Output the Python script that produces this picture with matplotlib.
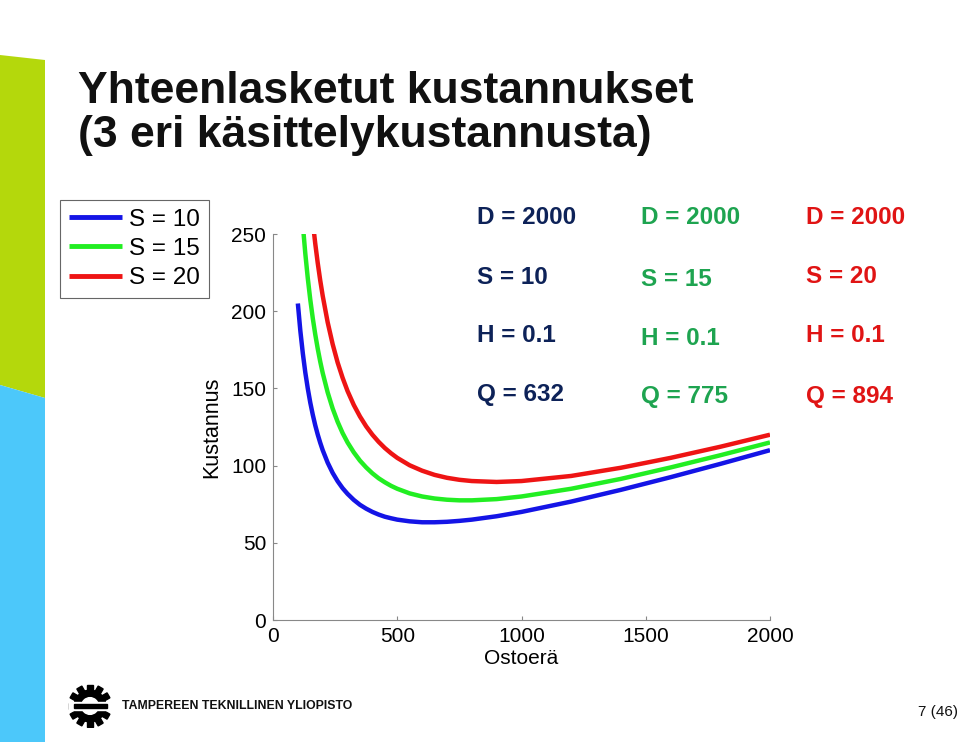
import matplotlib
matplotlib.use("Agg")
import matplotlib.pyplot as plt
from matplotlib.patches import Polygon, Circle, Rectangle
import numpy as np

plt.rcParams['font.family'] = ['Liberation Sans', 'DejaVu Sans']

# ostoerä (Q) ja kokonaiskustannus kolmelle käsittelykustannukselle
ostoera = [100, 110, 120, 130, 140, 150, 160, 170, 180, 190, 200, 220, 240, 260, 280,
           300, 325, 350, 375, 400, 425, 450, 475, 500, 550, 600, 650, 700, 750, 800,
           900, 1000, 1200, 1400, 1600, 1800, 2000]
kust_s10 = [205, 187.3, 172.7, 160.3, 149.9, 140.8, 133, 126.1, 120.1, 114.8, 110, 101.9,
            95.3, 89.9, 85.4, 81.7, 77.8, 74.6, 72.1, 70, 68.3, 66.9, 65.9, 65, 63.9, 63.3,
            63.3, 63.6, 64.2, 65, 67.2, 70, 76.7, 84.3, 92.5, 101.1, 110]
kust_s15 = [305, 278.2, 256, 237.3, 221.3, 207.5, 195.5, 185, 175.7, 167.4, 160, 147.4,
            137, 128.4, 121.1, 115, 108.6, 103.2, 98.8, 95, 91.8, 89.2, 86.9, 85, 82.0, 80,
            78.7, 77.9, 77.5, 77.5, 78.3, 80, 85, 91.4, 98.8, 106.7, 115]
kust_s20 = [405, 369.1, 339.3, 314.2, 292.7, 274.2, 258, 243.8, 231.2, 220, 210, 192.8,
            178.7, 166.8, 156.9, 148.3, 139.3, 131.8, 125.4, 120, 115.4, 111.4, 108.0, 105,
            100.2, 96.7, 94.0, 92.1, 90.8, 90, 89.4, 90, 93.3, 98.6, 105, 112.2, 120]

sarjat = ["S = 10", "S = 15", "S = 20"]
varit = ['#1414e6', '#22ee22', '#ee1414']
tekstivarit = ['#0d2258', '#1ea450', '#e01414']
parametrit = [["D = 2000", "S = 10", "H = 0.1", "Q = 632"],
              ["D = 2000", "S = 15", "H = 0.1", "Q = 775"],
              ["D = 2000", "S = 20", "H = 0.1", "Q = 894"]]

W, H = 960, 742
fig = plt.figure(figsize=(9.6, 7.42), dpi=100)

def fx(px):
    return px / W

def fy(py):
    return 1 - py / H

# vasemman reunan väripalkit
fig.patches.append(Polygon([(fx(0), fy(55)), (fx(45), fy(60)), (fx(45), fy(398)), (fx(0), fy(385))],
                           closed=True, transform=fig.transFigure, facecolor='#b4d80c', edgecolor='none'))
fig.patches.append(Polygon([(fx(0), fy(385)), (fx(45), fy(398)), (fx(45), fy(742)), (fx(0), fy(742))],
                           closed=True, transform=fig.transFigure, facecolor='#4cc8fa', edgecolor='none'))

# otsikko
fig.text(fx(78), fy(103), "Yhteenlasketut kustannukset", fontsize=32, fontweight='bold',
         color='#111111', va='baseline', ha='left')
fig.text(fx(78), fy(147), "(3 eri käsittelykustannusta)", fontsize=32, fontweight='bold',
         color='#111111', va='baseline', ha='left')

ax = fig.add_axes([fx(273), fy(620), fx(770) - fx(273), fy(234) - fy(620)])
for y, lab, c in zip([kust_s10, kust_s15, kust_s20], sarjat, varit):
    ax.plot(ostoera, y, color=c, linewidth=3.2, label=lab, solid_capstyle='butt')

ax.set_xlim(0, 2000)
ax.set_ylim(0, 250)
ax.set_xticks([0, 500, 1000, 1500, 2000])
ax.set_yticks([0, 50, 100, 150, 200, 250])
for s in ['top', 'right']:
    ax.spines[s].set_visible(False)
for s in ['left', 'bottom']:
    ax.spines[s].set_color('#888888')
    ax.spines[s].set_linewidth(0.8)
ax.tick_params(direction='in', length=3, width=0.8, color='#888888', labelsize=15, pad=5)
ax.set_xlabel("Ostoerä", fontsize=15, labelpad=2)
ax.set_ylabel("Kustannus", fontsize=15.5, labelpad=6)

leg = ax.legend(loc='upper left', bbox_to_anchor=(fx(60), fy(200)), bbox_transform=fig.transFigure,
                borderaxespad=0, fontsize=17.5, frameon=True, fancybox=False, framealpha=1,
                edgecolor='#666666', handlelength=2.2, handletextpad=0.3, labelspacing=0.3,
                borderpad=0.35)
leg.get_frame().set_linewidth(0.8)
for l in leg.get_lines():
    l.set_linewidth(3.5)

# parametritekstit
sarake_x = [477, 641, 806]
rivi_y = [[218, 277, 336, 395], [218, 279, 338, 397], [217, 276, 336, 396]]
for xs, ys, rivit, c in zip(sarake_x, rivi_y, parametrit, tekstivarit):
    for yy, t in zip(ys, rivit):
        fig.text(fx(xs), fy(yy), t, fontsize=17.5, fontweight='bold', color=c, va='center', ha='left')

# logo
lax = fig.add_axes([fx(68), fy(728), fx(44), fy(684) - fy(728)])
lax.set_xlim(-1, 1)
lax.set_ylim(-1, 1)
lax.set_aspect('equal')
lax.axis('off')
for a in np.linspace(0, 2 * np.pi, 12, endpoint=False):
    r = Rectangle((-0.13, 0.55), 0.26, 0.42, color='black')
    tr = matplotlib.transforms.Affine2D().rotate(a) + lax.transData
    r.set_transform(tr)
    lax.add_patch(r)
lax.add_patch(Circle((0, 0), 0.72, color='black'))
lax.add_patch(Circle((0, 0), 0.38, color='white'))
lax.add_patch(Rectangle((-0.95, -0.16), 1.9, 0.32, color='white'))
lax.add_patch(Rectangle((-0.75, -0.08), 1.5, 0.16, color='black'))
fig.text(fx(122), fy(706), "TAMPEREEN TEKNILLINEN YLIOPISTO", fontsize=8.8, fontweight='bold',
         color='#111111', va='center', ha='left')

fig.text(fx(958), fy(712), "7 (46)", fontsize=11, color='#111111', va='center', ha='right')

fig.savefig("out.png", dpi=100)
